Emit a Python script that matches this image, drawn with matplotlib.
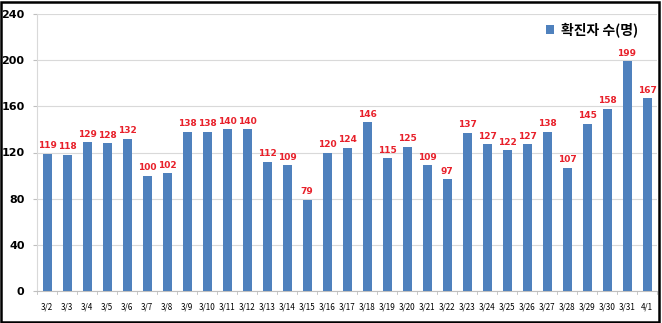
import matplotlib.pyplot as plt
from matplotlib.patches import Rectangle

plt.rcParams['font.family'] = ['Noto Sans CJK KR', 'DejaVu Sans']

dates = ['3/2', '3/3', '3/4', '3/5', '3/6', '3/7', '3/8', '3/9', '3/10', '3/11',
         '3/12', '3/13', '3/14', '3/15', '3/16', '3/17', '3/18', '3/19', '3/20',
         '3/21', '3/22', '3/23', '3/24', '3/25', '3/26', '3/27', '3/28', '3/29',
         '3/30', '3/31', '4/1']
cases = [119, 118, 129, 128, 132, 100, 102, 138, 138, 140, 140, 112, 109, 79,
         120, 124, 146, 115, 125, 109, 97, 137, 127, 122, 127, 138, 107, 145,
         158, 199, 167]
yticks = [0, 40, 80, 120, 160, 200, 240]

fig = plt.figure(figsize=(6.62, 3.23), dpi=100)
ax = fig.add_axes([37 / 662, 1 - 291 / 323, 620 / 662, 277 / 323])

x = range(len(dates))
ax.bar(x, cases, width=0.45, color='#4F81BD', zorder=3, label='확진자 수(명)')

for xi, v in zip(x, cases):
    ax.text(xi, v + 3, str(v), ha='center', va='bottom', color='#E8202A',
            fontsize=6.5, fontweight='bold', family='DejaVu Sans')

ax.set_xlim(-0.5, len(dates) - 0.5)
ax.set_ylim(0, 240)
ax.set_yticks(yticks)
ax.set_yticklabels([str(t) for t in yticks], fontsize=8, fontweight='bold',
                   family='DejaVu Sans')
ax.set_xticks(list(x))
ax.set_xticklabels(dates, fontsize=5.8)
ax.tick_params(axis='x', length=0, pad=8)
ax.tick_params(axis='y', length=3, color='#BFBFBF', pad=6)
for i in range(len(dates) + 1):
    ax.plot([i - 0.5, i - 0.5], [0, -3], color='#BFBFBF', lw=0.6, clip_on=False)

ax.grid(axis='y', color='#D9D9D9', lw=0.8, zorder=0)
for s in ['top', 'right']:
    ax.spines[s].set_visible(False)
ax.spines['left'].set_color('#D9D9D9')
ax.spines['bottom'].set_color('#BFBFBF')

ax.legend(loc='upper right', bbox_to_anchor=(0.99, 1.015), frameon=False,
          prop={'size': 10, 'weight': 'bold'}, handlelength=0.6, handleheight=0.6,
          handletextpad=0.5)

fig.patches.append(Rectangle((0.002, 0.004), 0.993, 0.99, transform=fig.transFigure,
                             fill=False, edgecolor='black', lw=1.8))

fig.savefig('out.png', dpi=100)
